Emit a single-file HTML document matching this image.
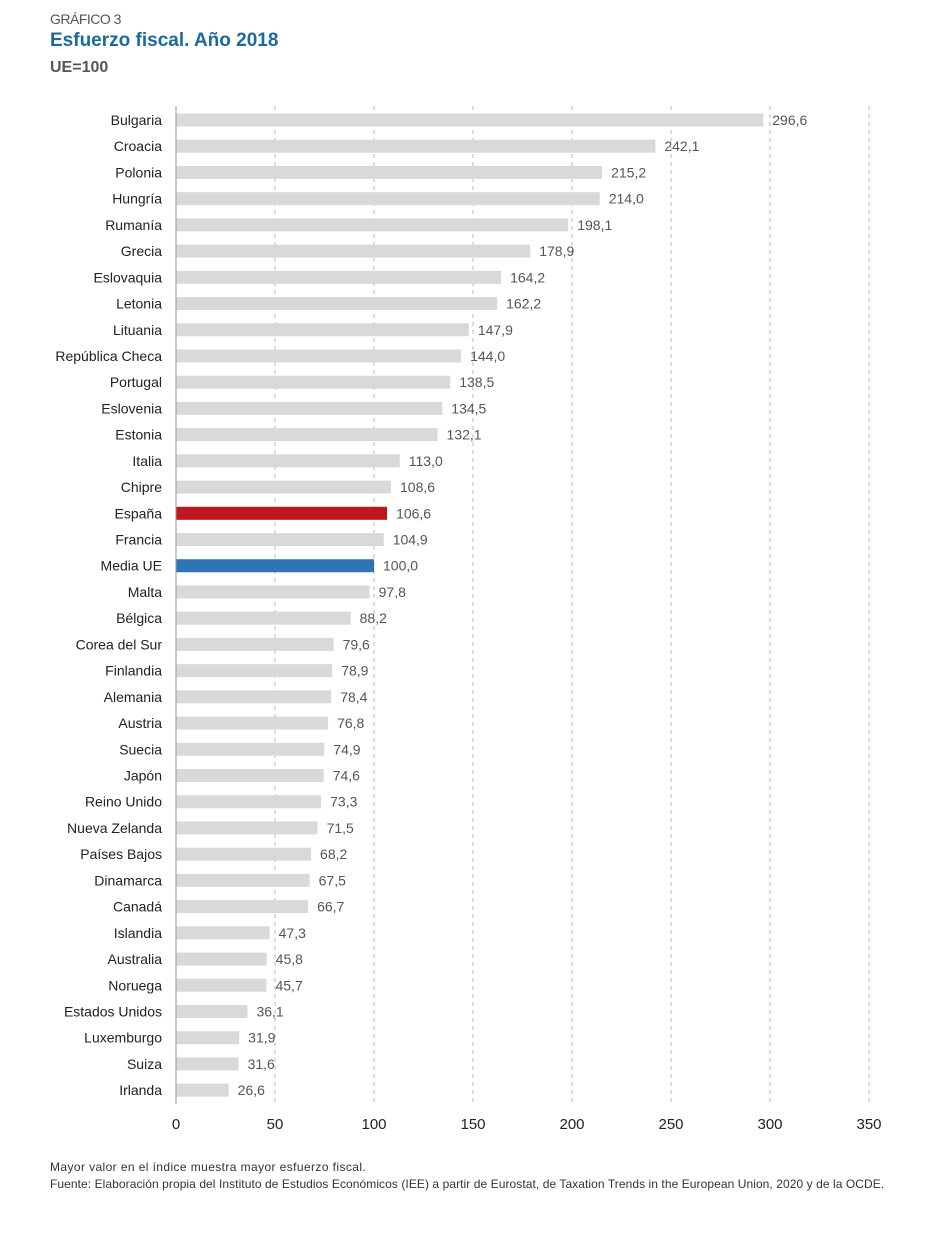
<!DOCTYPE html>
<html><head><meta charset="utf-8">
<style>
body{margin:0;background:#fff;font-family:"Liberation Sans",sans-serif;}
#wrap{position:relative;width:934px;height:1242px;overflow:hidden;}
.t{position:absolute;left:50px;white-space:nowrap;}
</style></head>
<body><div id="wrap">
<div class="t" style="top:11px;font-size:14px;color:#555;letter-spacing:-0.5px">GRÁFICO 3</div>
<div class="t" style="top:30px;font-size:19px;font-weight:bold;color:#1a6aa0">Esfuerzo fiscal. Año 2018</div>
<div class="t" style="top:59px;font-size:16px;font-weight:bold;color:#555">UE=100</div>
<svg id="chart" width="934" height="1160" style="position:absolute;left:0;top:0"></svg>
<div class="t" style="top:1160px;font-size:12px;color:#333;letter-spacing:0.4px">Mayor valor en el índice muestra mayor esfuerzo fiscal.</div>
<div class="t" style="top:1177px;font-size:12px;color:#333;letter-spacing:0.07px">Fuente: Elaboración propia del Instituto de Estudios Económicos (IEE) a partir de Eurostat, de Taxation Trends in the European Union, 2020 y de la OCDE.</div>
</div>
<script>
const categories=["Bulgaria","Croacia","Polonia","Hungría","Rumanía","Grecia","Eslovaquia","Letonia","Lituania","República Checa","Portugal","Eslovenia","Estonia","Italia","Chipre","España","Francia","Media UE","Malta","Bélgica","Corea del Sur","Finlandia","Alemania","Austria","Suecia","Japón","Reino Unido","Nueva Zelanda","Países Bajos","Dinamarca","Canadá","Islandia","Australia","Noruega","Estados Unidos","Luxemburgo","Suiza","Irlanda"];
const values=[296.6,242.1,215.2,214.0,198.1,178.9,164.2,162.2,147.9,144.0,138.5,134.5,132.1,113.0,108.6,106.6,104.9,100.0,97.8,88.2,79.6,78.9,78.4,76.8,74.9,74.6,73.3,71.5,68.2,67.5,66.7,47.3,45.8,45.7,36.1,31.9,31.6,26.6];
const ticks=[0,50,100,150,200,250,300,350];
const svg=document.getElementById('chart');
const NS='http://www.w3.org/2000/svg';
const x=v=>176+v*1.98;
const y=i=>120+i*26.22;
function mk(t,a){const e=document.createElementNS(NS,t);for(const k in a)e.setAttribute(k,a[k]);svg.appendChild(e);return e;}
ticks.forEach(t=>{
 if(t>0){const g=mk('line',{x1:x(t),x2:x(t),y1:106,y2:1104,stroke:'#bbb','stroke-dasharray':'4,4'});
 
 }
 const l=mk('text',{x:x(t),y:1129,'text-anchor':'middle','font-size':'15',fill:'#222'});l.textContent=t;
 
 
});
categories.forEach((c,i)=>{
 const col=c==='España'?'#c0161f':c==='Media UE'?'#2f75b5':'#d9d9d9';
 const b=mk('rect',{x:176,y:y(i)-6.5,width:x(values[i])-176,height:13,fill:col});
 
 
 const l=mk('text',{x:162,y:y(i)+5,'text-anchor':'end','font-size':'14',fill:'#222'});l.textContent=c;
 
 
 const v=mk('text',{x:x(values[i])+9,y:y(i)+5,'font-size':'14',fill:'#555'});v.textContent=values[i].toFixed(1).replace('.',',');
 
 
});
const ax=mk('line',{x1:176,x2:176,y1:106,y2:1104,stroke:'#999','stroke-width':1});


</script>
</body></html>
